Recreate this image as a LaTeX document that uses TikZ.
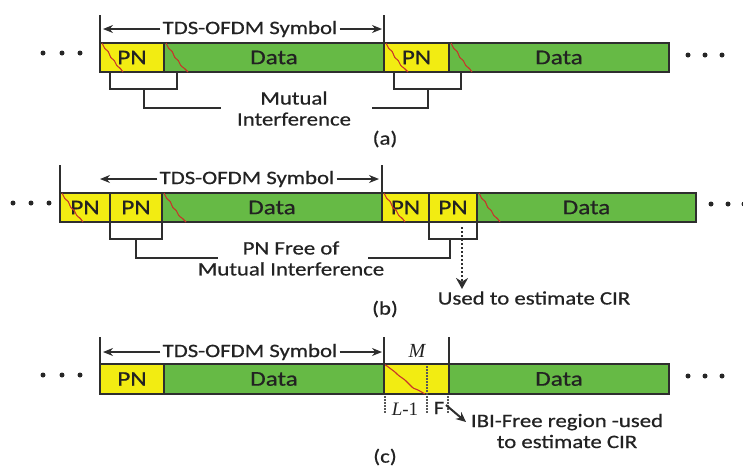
\documentclass[tikz,border=0pt]{standalone}
\usepackage{fontspec}
\setmainfont[FakeStretch=1.2,FakeBold=0.6]{Carlito}
\newfontfamily\serifit{Liberation Serif}
\usetikzlibrary{arrows.meta}
\definecolor{pny}{HTML}{F2EC12}
\definecolor{dgr}{HTML}{66BA45}
\definecolor{edge}{HTML}{2E2E2E}
\definecolor{wav}{HTML}{C8342A}
\definecolor{txt}{HTML}{222222}
\begin{document}
\begin{tikzpicture}[x=1pt,y=-1pt,
 seg/.style={draw=edge,line width=2pt,minimum height=29pt,inner sep=0pt,outer sep=0pt,font=\fontsize{21}{21}\selectfont,text=txt},
 pnbox/.style={seg,fill=pny},
 databox/.style={seg,fill=dgr},
 lbl/.style={font=\fontsize{19}{21}\selectfont,text=txt,inner sep=2pt,align=center},
 tickline/.style={draw=edge,line width=2pt},
 brk/.style={draw=edge,line width=2pt},
 dimarrow/.style={draw=edge,line width=1.3pt,-{Stealth[length=10pt,width=8pt]}},
 wave/.style={draw=wav,line width=1.1pt,rounded corners=1pt},
 dotmark/.style={circle,fill=black!85,inner sep=0pt,minimum size=5pt},
 dotline/.style={draw=edge!80,line width=1.5pt,dash pattern=on 1.5pt off 1.5pt},
 ]
\useasboundingbox (0,0) rectangle (743,467);

% ================= (a) =================
\node[pnbox,minimum width=64pt] (a1pn) at (132,57.5) {PN};
\node[databox,minimum width=220pt] (a1data) at (274,57.5) {Data};
\node[pnbox,minimum width=65pt] (a2pn) at (416.5,57.5) {PN};
\node[databox,minimum width=220pt] (a2data) at (559,57.5) {Data};
\draw[wave] (102,43) -- (105,49) -- (108,51) -- (111,58) -- (114,60) -- (117,66) -- (120,68) -- (123,72);
\draw[wave] (166,43) -- (169,49) -- (172,51) -- (175,58) -- (178,60) -- (181,66) -- (184,68) -- (188,72);
\draw[wave] (386,43) -- (389,49) -- (392,51) -- (395,58) -- (398,60) -- (401,66) -- (404,68) -- (408,72);
\draw[wave] (451,43) -- (454,49) -- (457,51) -- (460,58) -- (463,60) -- (466,66) -- (469,68) -- (472,72);
\coordinate (a1t) at (100,15);
\coordinate (a2t) at (384,15);
\draw[tickline] (a1t) -- (a1pn.south west);
\draw[tickline] (a2t) -- (a2pn.south west);
\node[lbl] (asym) at (250,29) {TDS-OFDM Symbol};
\coordinate (aL) at (103,29);
\coordinate (aR) at (382,29);
\draw[dimarrow] (asym) -- (aL);
\draw[dimarrow] (asym) -- (aR);
\node[dotmark] (ad1) at (43,53) {};
\node[dotmark] (ad2) at (62,53) {};
\node[dotmark] (ad3) at (80,53) {};
\node[dotmark] (ad4) at (688,55) {};
\node[dotmark] (ad5) at (705,55) {};
\node[dotmark] (ad6) at (722,55) {};
\draw[brk] (110,72) |- (177,89) -- (177,72);
\draw[brk] (394,72) |- (461,89) -- (461,72);
\node[lbl] (amut) at (294,108.5) {Mutual\\Interference};
\draw[brk] (144,89) |- (221,108);
\draw[brk] (372,108) -| (428,89);
\node[lbl] (alab) at (385,139) {(a)};

% ================= (b) =================
\node[pnbox,minimum width=50pt] (b1pn1) at (85,207.5) {PN};
\node[pnbox,minimum width=52pt] (b1pn2) at (136,207.5) {PN};
\node[databox,minimum width=220pt] (b1data) at (272,207.5) {Data};
\node[pnbox,minimum width=47pt] (b2pn1) at (405.5,207.5) {PN};
\node[pnbox,minimum width=48pt] (b2pn2) at (453,207.5) {PN};
\node[databox,minimum width=219pt] (b2data) at (586.5,207.5) {Data};
\draw[wave] (62,193) -- (65,199) -- (68,201) -- (71,208) -- (74,210) -- (77,216) -- (80,218) -- (83,222);
\draw[wave] (164,193) -- (167,199) -- (170,201) -- (173,208) -- (176,210) -- (179,216) -- (182,218) -- (186,222);
\draw[wave] (384,193) -- (387,199) -- (390,201) -- (393,208) -- (396,210) -- (399,216) -- (402,218) -- (405,222);
\draw[wave] (479,193) -- (482,199) -- (485,201) -- (488,208) -- (491,210) -- (494,216) -- (497,218) -- (500,222);
\coordinate (b1t) at (60,165);
\coordinate (b2t) at (382,165);
\draw[tickline] (b1t) -- (b1pn1.south west);
\draw[tickline] (b2t) -- (b2pn1.south west);
\node[lbl] (bsym) at (247,179) {TDS-OFDM Symbol};
\coordinate (bL) at (100,179);
\coordinate (bR) at (379,179);
\draw[dimarrow] (bsym) -- (bL);
\draw[dimarrow] (bsym) -- (bR);
\node[dotmark] (bd1) at (13,203) {};
\node[dotmark] (bd2) at (31,203) {};
\node[dotmark] (bd3) at (49,203) {};
\node[dotmark] (bd4) at (711,204) {};
\node[dotmark] (bd5) at (728,204) {};
\node[dotmark] (bd6) at (744,204) {};
\draw[brk] (b1pn2.south west) |- (162,239) -- (b1pn2.south east);
\draw[brk] (b2pn2.south west) |- (477,239) -- (b2pn2.south east);
\node[lbl] (bmut) at (291,258.5) {PN Free of\\Mutual Interference};
\draw[brk] (136,239) |- (218,258);
\draw[brk] (368,258) -| (450,239);
\node[lbl] (bused) at (534,298) {Used to estimate CIR};
\coordinate (bdA) at (462,227);
\coordinate (bdB) at (462,289);
\draw[draw=edge,line width=2.6pt,dash pattern=on 2pt off 2pt,-{Stealth[length=11pt,width=12pt]}] (bdA) -- (bdB);
\node[lbl] (blab) at (385,309) {(b)};

% ================= (c) =================
\node[pnbox,minimum width=64pt,minimum height=30pt] (c1pn) at (132,379) {PN};
\node[databox,minimum width=220pt,minimum height=30pt] (c1data) at (274,379) {Data};
\node[pnbox,minimum width=65pt,minimum height=30pt] (c2pn) at (416.5,379) {};
\node[databox,minimum width=220pt,minimum height=30pt] (c2data) at (559,379) {Data};
\draw[wave] (384,364) -- (387,366) -- (395,372) -- (398,375) -- (405,380) -- (408,383) -- (413,388) -- (418,390) -- (425,394);
\coordinate (c1t) at (100,337);
\coordinate (c2t) at (384,337);
\coordinate (c3t) at (449,337);
\draw[tickline] (c1t) -- (c1pn.south west);
\draw[tickline] (c2t) -- (c2pn.south west);
\draw[tickline] (c3t) -- (c2pn.south east);
\node[lbl] (csym) at (250,352) {TDS-OFDM Symbol};
\coordinate (cL) at (103,352);
\coordinate (cR) at (382,352);
\draw[dimarrow] (csym) -- (cL);
\draw[dimarrow] (csym) -- (cR);
\node[font=\serifit\itshape\fontsize{20}{20}\selectfont,text=txt] (cM) at (417,351) {M};
\node[dotmark] (cd1) at (43,375) {};
\node[dotmark] (cd2) at (62,375) {};
\node[dotmark] (cd3) at (80,375) {};
\node[dotmark] (cd4) at (688,376) {};
\node[dotmark] (cd5) at (705,376) {};
\node[dotmark] (cd6) at (722,376) {};
\coordinate (cv1a) at (385,396);
\coordinate (cv1b) at (385,414);
\coordinate (cv2a) at (427,366);
\coordinate (cv2b) at (427,414);
\coordinate (cv3a) at (448,396);
\coordinate (cv3b) at (448,414);
\draw[dotline] (cv1a) -- (cv1b);
\draw[dotline] (cv2a) -- (cv2b);
\draw[dotline] (cv3a) -- (cv3b);
\node[font=\serifit\fontsize{19}{19}\selectfont,text=txt] (cL1) at (405,409) {\itshape L\upshape-1};
\node[lbl] (cF) at (439,408) {F};
\coordinate (caA) at (446,405);
\coordinate (caB) at (466,422);
\draw[draw=edge,line width=2pt,-{Stealth[length=10pt,width=9pt]}] (caA) -- (caB);
\node[lbl] (cibi) at (567,431) {IBI-Free region -used\\to estimate CIR};
\node[lbl] (clab) at (385,457) {(c)};
\end{tikzpicture}
\end{document}
